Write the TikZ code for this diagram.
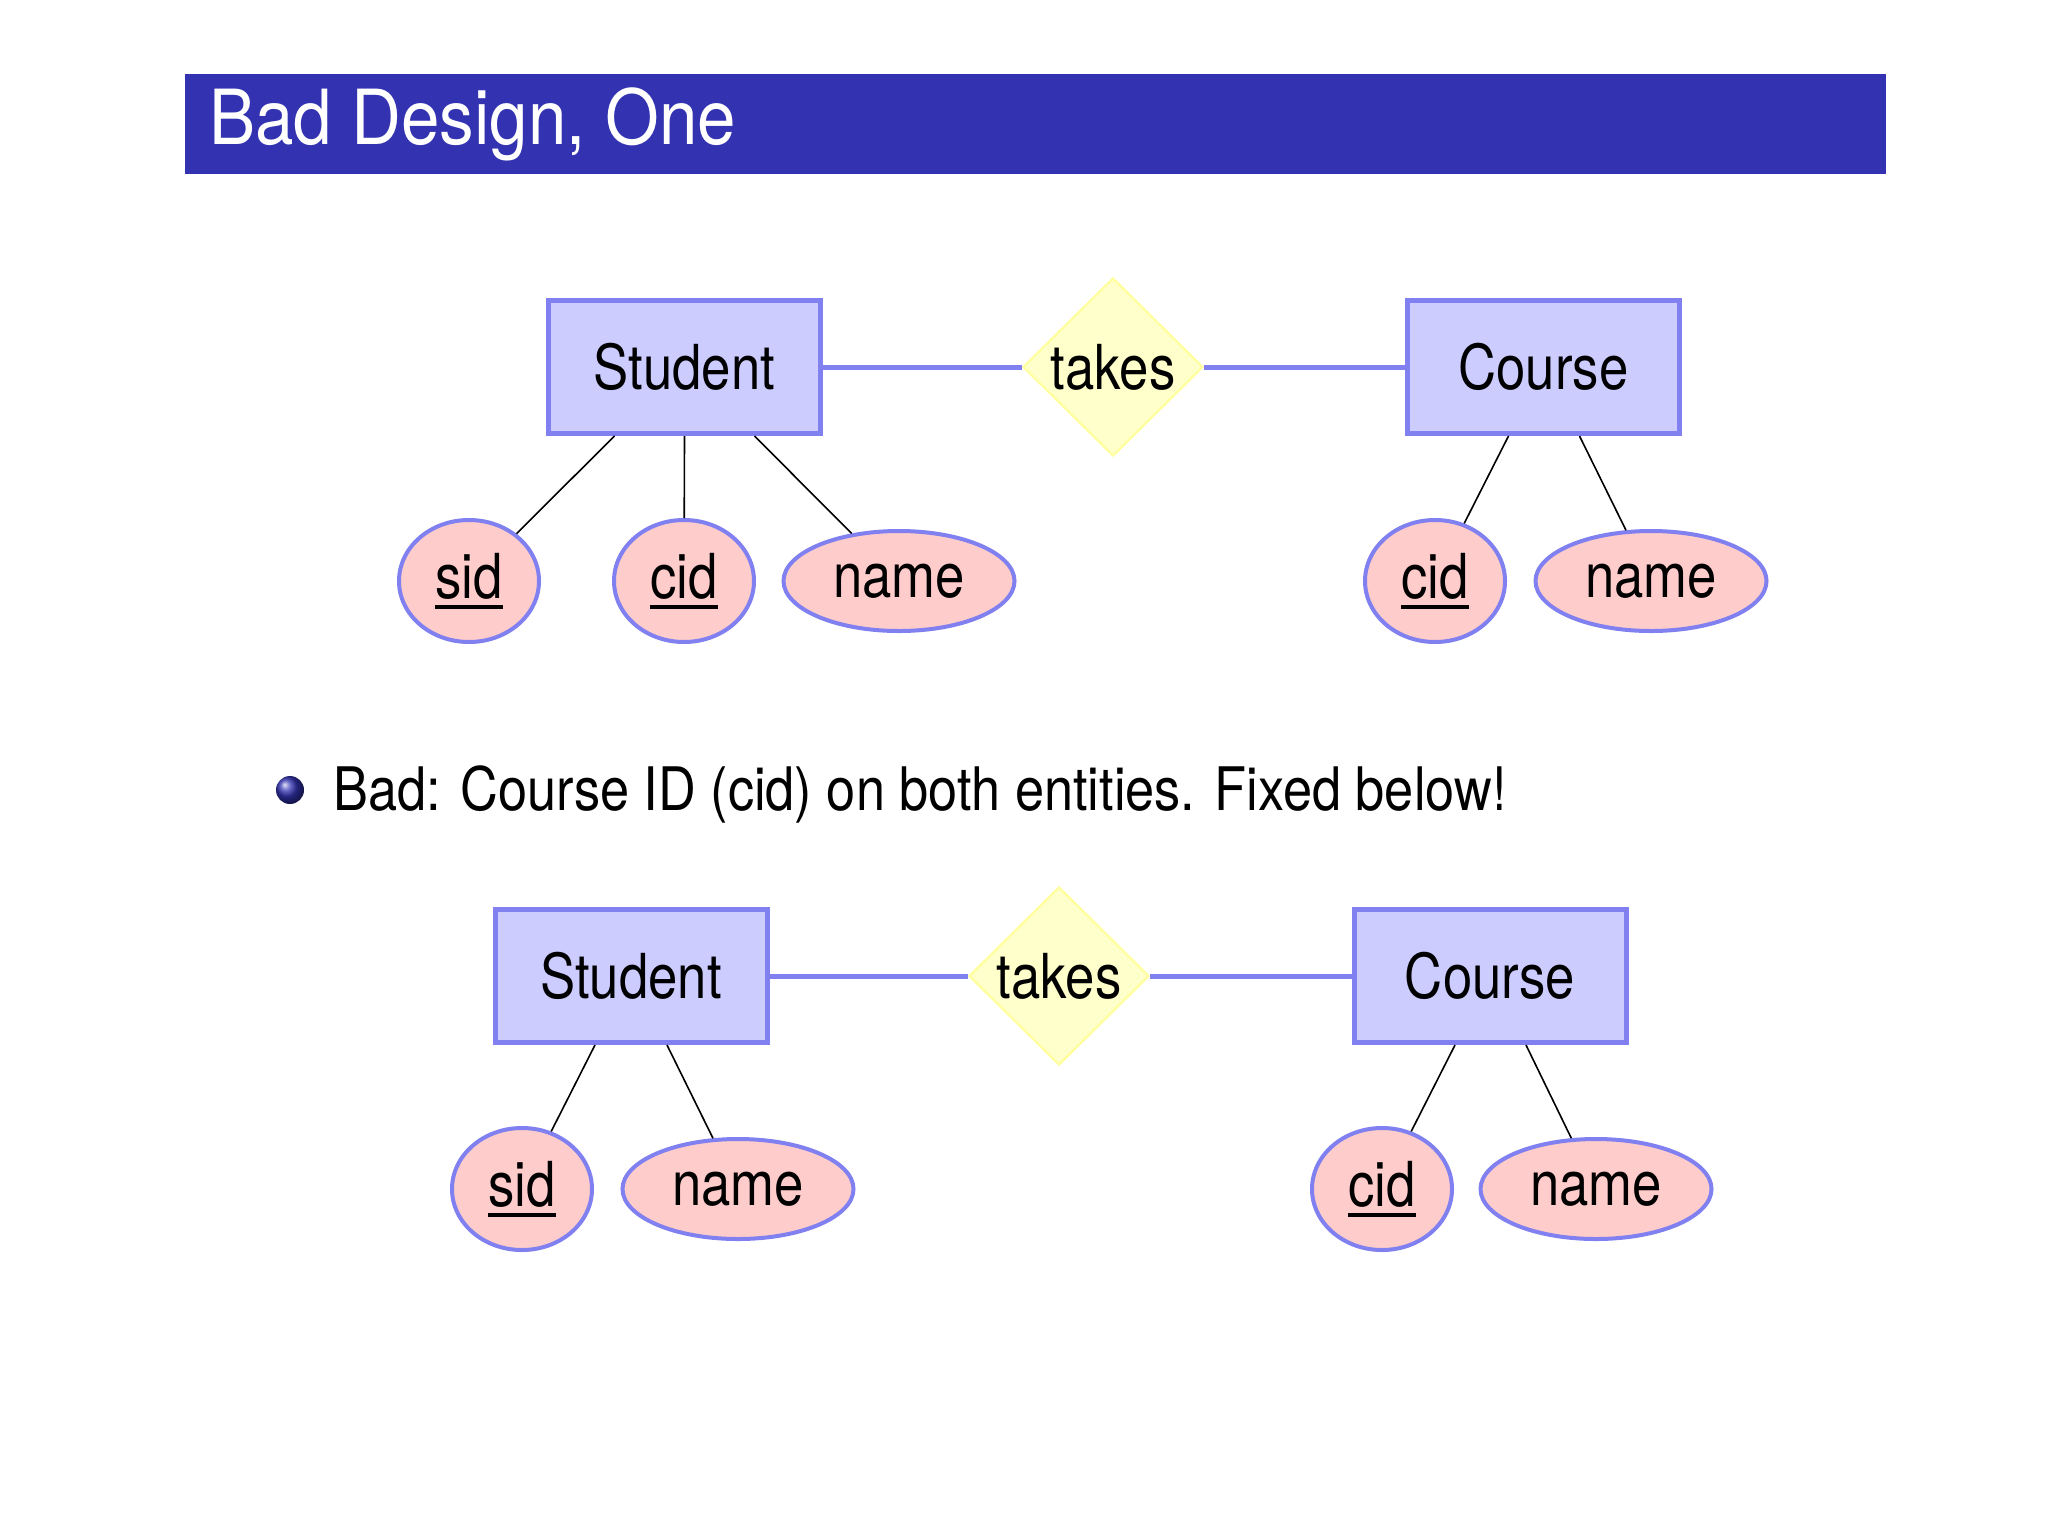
\documentclass[tikz,border=0pt]{standalone}
\usepackage{fontspec}
\setmainfont{TeX Gyre Heros}[FakeStretch=0.85]
\newfontfamily\titlefont{TeX Gyre Heros}[FakeStretch=0.91]
\newfontfamily\bulfont{TeX Gyre Heros}[FakeStretch=0.872]
\usetikzlibrary{shapes.geometric,calc}
\definecolor{titlebar}{RGB}{51,51,178}
\definecolor{entfill}{RGB}{204,204,255}
\definecolor{edgeblue}{RGB}{128,128,240}
\definecolor{relfill}{RGB}{255,255,204}
\definecolor{reldraw}{RGB}{255,255,160}
\definecolor{attrfill}{RGB}{255,204,204}
\newcommand\keyul[1]{\setbox0=\hbox{#1}\leavevmode\rlap{\rule[-0.17em]{\wd0}{0.07em}}\box0}
\begin{document}
\begin{tikzpicture}[x=0.5pt,y=-0.5pt,
  lbl/.style={font=\fontsize{31}{37}\selectfont},
  entity/.style={lbl, draw=edgeblue, fill=entfill, line width=2.5pt, minimum width=136pt, minimum height=66.5pt, inner sep=0pt},
  rel/.style={lbl, diamond, draw=reldraw, fill=relfill, line width=1.2pt, minimum width=90pt, minimum height=89pt, inner sep=0pt},
  attr/.style={lbl, ellipse, draw=edgeblue, fill=attrfill, line width=2pt, inner sep=0pt},
  keyattr/.style={attr, minimum width=70pt, minimum height=61pt},
  plainattr/.style={attr, minimum width=115.5pt, minimum height=50pt},
  erline/.style={draw=edgeblue, line width=2.5pt},
  attrline/.style={draw=black, line width=0.8pt}]
\useasboundingbox (0,0) rectangle (2048,1536);
\fill[white] (0,0) rectangle (2048,1536);
% title bar
\fill[titlebar] (185,74) rectangle (1886,174);
\node[anchor=base west, text=white, inner sep=0pt, font=\titlefont\fontsize{38}{44}\selectfont] (title) at (209,144) {Bad Design, One};

% ---------- top diagram ----------
\node[entity] (s1) at (684.5,367) {Student};
\node[rel] (t1) at (1113,367) {takes};
\node[entity] (c1) at (1543.5,367) {Course};
\draw[erline] (s1.east) -- (t1.west);
\draw[erline] (t1.east) -- (c1.west);

\node[keyattr] (sid1) at (469,581) {\keyul{sid}};
\node[keyattr] (cid1) at (684,581) {\keyul{cid}};
\node[plainattr] (name1) at (899,581) {name};
\node[keyattr] (ccid1) at (1435,581) {\keyul{cid}};
\node[plainattr] (cname1) at (1651,581) {name};

\draw[attrline] ($(s1.south)+(-70,0)$) -- (sid1);
\draw[attrline] (s1.south) -- (cid1);
\draw[attrline] ($(s1.south)+(70,0)$) -- (name1);
\draw[attrline] ($(c1.south)+(-35,0)$) -- (ccid1);
\draw[attrline] ($(c1.south)+(36,0)$) -- (cname1);

% ---------- bullet ----------
\node[circle, shading=ball, ball color=titlebar, minimum size=14pt, inner sep=0pt] (bul) at (290,790) {};
\node[anchor=base west, inner sep=0pt, font=\bulfont\fontsize{30}{36}\selectfont] (btext) at (333,810) {Bad: Course ID (cid) on both entities. Fixed below!};

% ---------- bottom diagram ----------
\node[entity] (s2) at (631,976) {Student};
\node[rel] (t2) at (1059,976) {takes};
\node[entity] (c2) at (1490,976) {Course};
\draw[erline] (s2.east) -- (t2.west);
\draw[erline] (t2.east) -- (c2.west);

\node[keyattr] (sid2) at (522,1189) {\keyul{sid}};
\node[plainattr] (name2) at (738,1189) {name};
\node[keyattr] (ccid2) at (1382,1189) {\keyul{cid}};
\node[plainattr] (cname2) at (1596,1189) {name};

\draw[attrline] ($(s2.south)+(-36,0)$) -- (sid2);
\draw[attrline] ($(s2.south)+(36,0)$) -- (name2);
\draw[attrline] ($(c2.south)+(-35,0)$) -- (ccid2);
\draw[attrline] ($(c2.south)+(36,0)$) -- (cname2);
\end{tikzpicture}
\end{document}
